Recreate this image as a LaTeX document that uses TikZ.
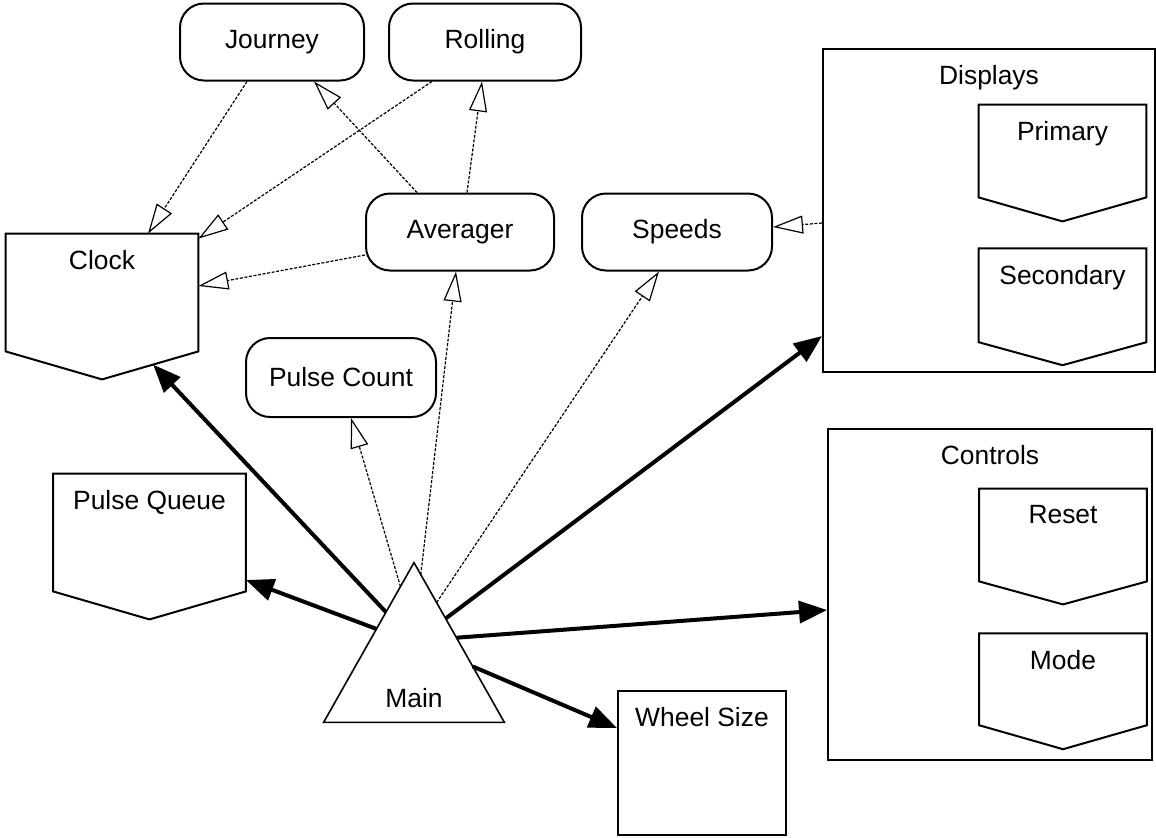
\documentclass[tikz,border=0pt]{standalone}
\usepackage{fontspec}
\setmainfont{Liberation Sans}
\usetikzlibrary{arrows.meta,positioning,calc}

\newcommand{\lbl}{\fontsize{13.2}{15}\selectfont}
% outline of a box with a pointed bottom
\newcommand{\pentline}[2]{\draw[outl] (#1.north west) -- (#1.north east) -- ([yshift=#2]#1.south east) -- (#1.south) -- ([yshift=#2]#1.south west) -- cycle;}

\begin{document}
\begin{tikzpicture}[x=0.5pt, y=-0.5pt,
    rbox/.style={rectangle, rounded corners=12pt, draw, line width=1pt, minimum width=94pt, minimum height=38.5pt, inner sep=0pt, font=\lbl},
    pent/.style={rectangle, inner sep=0pt, minimum width=96pt, minimum height=72.5pt},
    pentsmall/.style={rectangle, inner sep=0pt, minimum width=83.5pt, minimum height=57.5pt},
    group/.style={rectangle, draw, line width=1pt, inner sep=0pt},
    toplbl/.style={anchor=north, inner sep=0pt, yshift=-8.3pt, font=\lbl},
    outl/.style={line width=1pt, line join=miter},
    uses/.style={line width=0.6pt, dash pattern=on 1.5pt off 0.8pt, -{Triangle[fill=white, length=15pt, width=9pt]}},
    owns/.style={line width=2pt, -{Triangle[length=14pt, width=11pt]}}
]
\useasboundingbox (0,0) rectangle (1156,837);

% === ROUNDED BOXES ===
\node (journey) [rbox, minimum width=92pt] at (272,42) {Journey};
\node (rolling) [rbox, minimum width=96pt] at (485,42) {Rolling};
\node (averager) [rbox, minimum width=94pt] at (460,232) {Averager};
\node (speeds) [rbox, minimum width=95pt] at (677,232) {Speeds};
\node (pulsecount) [rbox, minimum width=95pt, minimum height=39.5pt] at (341,377.5) {Pulse Count};

% === POINTED BOXES ===
\node (clock) [pent, label={[toplbl]north:Clock}] at (102,306.5) {};
\node (queue) [pent, label={[toplbl]north:Pulse Queue}] at (149.5,546.5) {};
\pentline{clock}{14pt}
\pentline{queue}{14pt}

% === DISPLAYS ===
\node (displays) [group, minimum width=166pt, minimum height=161.5pt, label={[toplbl]north:Displays}] at (989,210.5) {};
\node (primary) [pentsmall, minimum height=58pt, label={[toplbl]north:Primary}] at (1062.5,163) {};
\node (secondary) [pentsmall, minimum height=58pt, below=13.5pt of primary, label={[toplbl]north:Secondary}] {};
\pentline{primary}{12pt}
\pentline{secondary}{11.5pt}

% === CONTROLS ===
\node (controls) [group, minimum width=162pt, minimum height=165.5pt, label={[toplbl]north:Controls}] at (990,594.5) {};
\node (reset) [pentsmall, label={[toplbl]north:Reset}] at (1063,546.5) {};
\node (mode) [pentsmall, below=14.5pt of reset, label={[toplbl]north:Mode}] {};
\pentline{reset}{11.5pt}
\pentline{mode}{12pt}

% === WHEEL SIZE ===
\node (wheel) [group, minimum width=84pt, minimum height=72pt, label={[toplbl]north:Wheel Size}] at (702,763) {};

% === MAIN ===
\node (main) [rectangle, inner sep=0pt, minimum width=90pt, minimum height=79.5pt, label={[anchor=south, inner sep=0pt, yshift=7pt, font=\lbl]south:Main}] at (414,642.5) {};
\draw[line width=0.8pt, line join=miter] (main.north) -- (main.south east) -- (main.south west) -- cycle;

% uses (dotted, open heads)
\draw[uses] ([xshift=-12.5pt]journey.south) -- ([xshift=23pt]clock.north);
\draw[uses] ([xshift=-26.5pt]rolling.south) -- ([yshift=-2.5pt]clock.north east);
\draw[uses] ([xshift=-21.5pt]averager.north) -- ([xshift=21pt]journey.south);
\draw[uses] ([xshift=3.5pt]averager.north) -- ([xshift=-1.5pt]rolling.south);
\draw[uses] ([yshift=-11.5pt]averager.west) -- ([yshift=10.25pt]clock.east);
\draw[uses] ([yshift=-6.25pt]displays.west) -- ([yshift=2.5pt]speeds.east);
\draw[uses] ($(main.north)!0.15!(main.south west)$) -- ([xshift=5pt]pulsecount.south);
\draw[uses] ($(main.north)!0.075!(main.south east)$) -- ([xshift=-2pt]averager.south);
\draw[uses] ($(main.north)!0.25!(main.south east)$) -- ([xshift=-9pt]speeds.south);

% owns (thick, filled heads)
\draw[owns] ($(main.north)!0.31!(main.south west)$) -- ($(clock.south)!0.53!([yshift=14pt]clock.south east)$);
\draw[owns] ($(main.north)!0.415!(main.south west)$) -- ([yshift=-16.75pt]queue.east);
\draw[owns] ($(main.north)!0.35!(main.south east)$) -- ([yshift=18.5pt]displays.south west);
\draw[owns] ($(main.north)!0.47!(main.south east)$) -- ([yshift=-7.75pt]controls.west);
\draw[owns] ($(main.north)!0.65!(main.south east)$) -- ([yshift=17.5pt]wheel.west);

\end{tikzpicture}
\end{document}
